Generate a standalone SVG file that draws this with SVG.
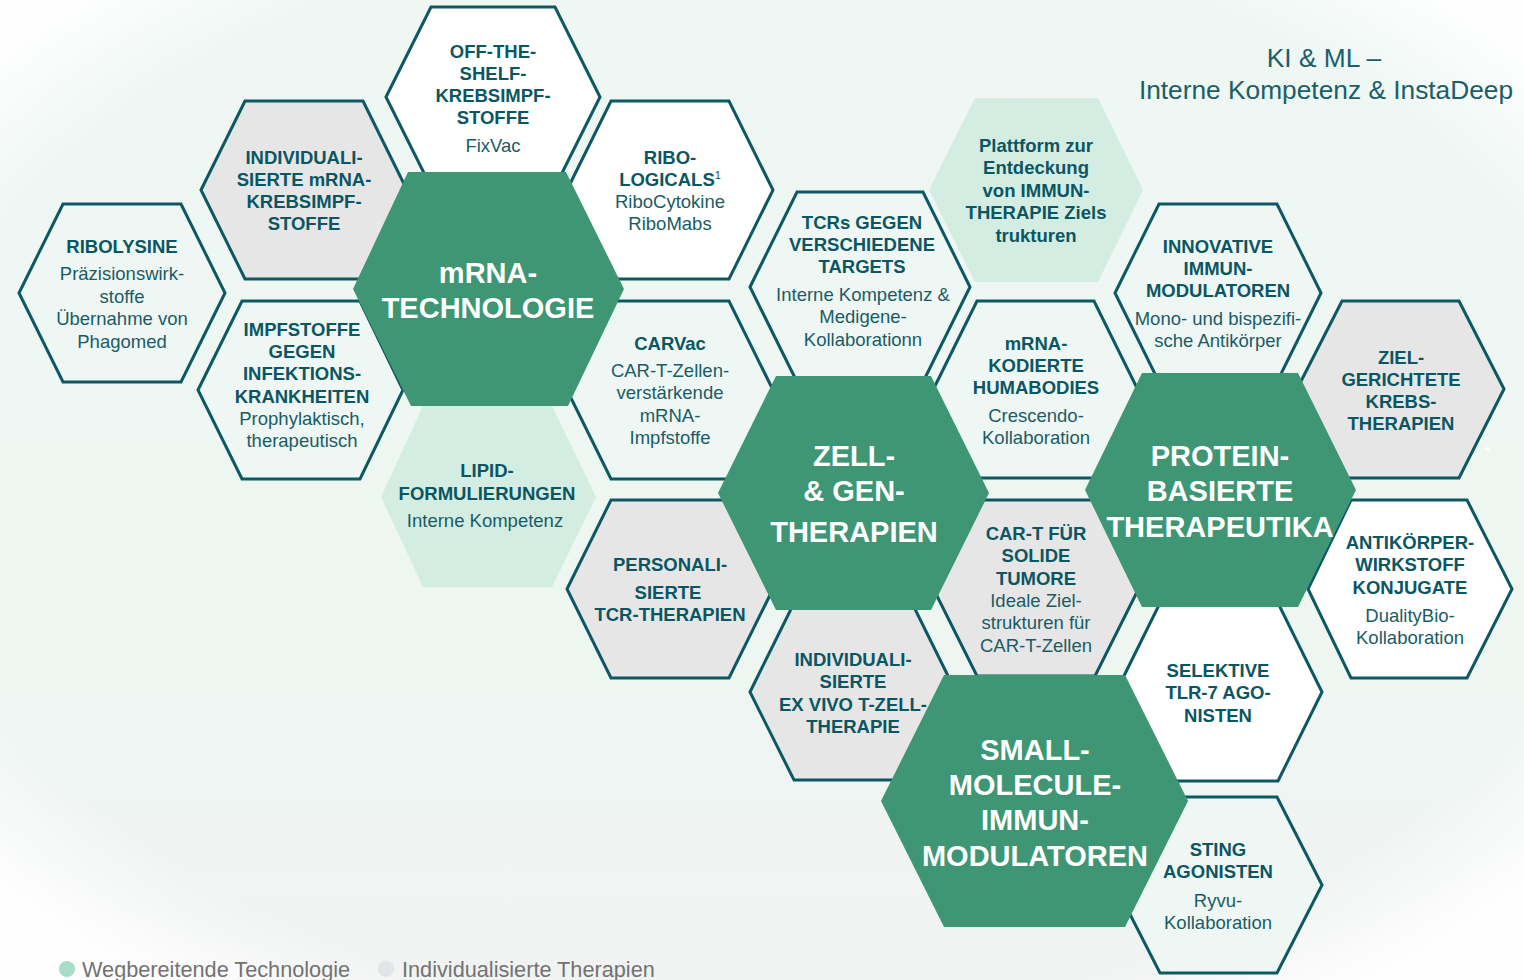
<svg xmlns="http://www.w3.org/2000/svg" width="1524" height="980" viewBox="0 0 1524 980">
  <defs>
    <linearGradient id="bgv" x1="0" y1="0" x2="0" y2="1">
      <stop offset="0" stop-color="#eef7f3"/>
      <stop offset="0.7" stop-color="#eef6f2"/>
      <stop offset="1" stop-color="#f1f3f2"/>
    </linearGradient>
    <radialGradient id="vig" cx="0.5" cy="0.48" r="0.66">
      <stop offset="0.84" stop-color="#ffffff" stop-opacity="0"/>
      <stop offset="1" stop-color="#ffffff" stop-opacity="0.95"/>
    </radialGradient>
    <style>
      .ol { stroke: #0d5863; stroke-width: 3; stroke-linejoin: miter; }
      .white { fill: #ffffff; }
      .gray { fill: #e6e6e6; }
      .bg { fill: #eef7f3; }
      .mint { fill: #d4ede2; stroke: none; }
      .green { fill: #3e9674; stroke: none; }
      text { font-family: "Liberation Sans", Arial, sans-serif; text-anchor: middle; }
      .t { font-size: 18.5px; font-weight: bold; fill: #0b5663; }
      .s { font-size: 18.5px; fill: #1a5c66; }
      .b { font-size: 29px; font-weight: bold; fill: #ffffff; }
      .title { font-size: 26.3px; fill: #1a5f68; }
      .leg { font-size: 21.7px; fill: #727272; text-anchor: start; }
    </style>
  </defs>

  <rect x="0" y="0" width="1524" height="980" fill="url(#bgv)"/>
  <rect x="0" y="0" width="1524" height="980" fill="url(#vig)"/>

  <g id="title">
    <text class="title" x="1324" y="67">KI &amp; ML –</text>
    <text class="title" x="1326" y="99">Interne Kompetenz &amp; InstaDeep</text>
  </g>

  <!-- mint technology hexes -->
  <g id="lipid">
    <polygon class="mint" points="381,497 423,406 552,406 596,497 552,587 423,587"/>
    <text class="t" x="487" y="477">LIPID-</text>
    <text class="t" x="487" y="500">FORMULIERUNGEN</text>
    <text class="s" x="485" y="527">Interne Kompetenz</text>
  </g>
  <g id="plattform">
    <polygon class="mint" points="929,190 975,98 1098,98 1143,190 1098,282 975,282"/>
    <text class="t" x="1036" y="152">Plattform zur</text>
    <text class="t" x="1036" y="174">Entdeckung</text>
    <text class="t" x="1036" y="197">von IMMUN-</text>
    <text class="t" x="1036" y="219">THERAPIE Ziels</text>
    <text class="t" x="1036" y="242">trukturen</text>
  </g>

  <!-- outlined hexes -->
  <g id="off-the-shelf">
    <polygon class="ol white" points="386,97 431,7 555,7 600,97 555,187 431,187"/>
    <text class="t" x="493" y="58">OFF-THE-</text>
    <text class="t" x="493" y="80">SHELF-</text>
    <text class="t" x="493" y="102">KREBSIMPF-</text>
    <text class="t" x="493" y="124">STOFFE</text>
    <text class="s" x="493" y="152">FixVac</text>
  </g>
  <g id="individualisierte-mrna">
    <polygon class="ol gray" points="201,190 245,101 363,101 407,190 363,279 245,279"/>
    <text class="t" x="304" y="164">INDIVIDUALI-</text>
    <text class="t" x="304" y="186">SIERTE mRNA-</text>
    <text class="t" x="304" y="208">KREBSIMPF-</text>
    <text class="t" x="304" y="230">STOFFE</text>
  </g>
  <g id="ribolysine">
    <polygon class="ol bg" points="19,293 63,204 181,204 225,293 181,382 63,382"/>
    <text class="t" x="122" y="253">RIBOLYSINE</text>
    <text class="s" x="122" y="280">Präzisionswirk-</text>
    <text class="s" x="122" y="303">stoffe</text>
    <text class="s" x="122" y="325">Übernahme von</text>
    <text class="s" x="122" y="348">Phagomed</text>
  </g>
  <g id="impfstoffe">
    <polygon class="ol bg" points="198,390 242,301 360,301 403,390 360,479 242,479"/>
    <text class="t" x="302" y="336">IMPFSTOFFE</text>
    <text class="t" x="302" y="358">GEGEN</text>
    <text class="t" x="302" y="380">INFEKTIONS-</text>
    <text class="t" x="302" y="403">KRANKHEITEN</text>
    <text class="s" x="302" y="425">Prophylaktisch,</text>
    <text class="s" x="302" y="447">therapeutisch</text>
  </g>
  <g id="ribologicals">
    <polygon class="ol white" points="567,190 611,101 729,101 773,190 729,279 611,279"/>
    <text class="t" x="670" y="164">RIBO-</text>
    <text class="t" x="670" y="186">LOGICALS<tspan font-size="11" font-weight="normal" dy="-7">1</tspan></text>
    <text class="s" x="670" y="208">RiboCytokine</text>
    <text class="s" x="670" y="230">RiboMabs</text>
  </g>
  <g id="carvac">
    <polygon class="ol bg" points="567,390 611,301 729,301 773,390 729,479 611,479"/>
    <text class="t" x="670" y="350">CARVac</text>
    <text class="s" x="670" y="377">CAR-T-Zellen-</text>
    <text class="s" x="670" y="399">verstärkende</text>
    <text class="s" x="670" y="422">mRNA-</text>
    <text class="s" x="670" y="444">Impfstoffe</text>
  </g>
  <g id="personalisierte-tcr">
    <polygon class="ol gray" points="567,589 611,500 729,500 773,589 729,678 611,678"/>
    <text class="t" x="670" y="571">PERSONALI-</text>
    <text class="t" x="668" y="599">SIERTE</text>
    <text class="t" x="670" y="621">TCR-THERAPIEN</text>
  </g>
  <g id="tcrs">
    <polygon class="ol bg" points="750,287 797,192 923,192 970,287 923,382 797,382"/>
    <text class="t" x="862" y="229">TCRs GEGEN</text>
    <text class="t" x="862" y="251">VERSCHIEDENE</text>
    <text class="t" x="862" y="273">TARGETS</text>
    <text class="s" x="863" y="301">Interne Kompetenz &amp;</text>
    <text class="s" x="863" y="323">Medigene-</text>
    <text class="s" x="863" y="346">Kollaborationn</text>
  </g>
  <g id="humabodies">
    <polygon class="ol bg" points="933,390 977,301 1094,301 1138,390 1094,478 977,478"/>
    <text class="t" x="1036" y="350">mRNA-</text>
    <text class="t" x="1036" y="372">KODIERTE</text>
    <text class="t" x="1036" y="394">HUMABODIES</text>
    <text class="s" x="1036" y="422">Crescendo-</text>
    <text class="s" x="1036" y="444">Kollaboration</text>
  </g>
  <g id="innovative">
    <polygon class="ol bg" points="1115,293 1159,204 1277,204 1321,293 1277,382 1159,382"/>
    <text class="t" x="1218" y="253">INNOVATIVE</text>
    <text class="t" x="1218" y="275">IMMUN-</text>
    <text class="t" x="1218" y="297">MODULATOREN</text>
    <text class="s" x="1218" y="325">Mono- und bispezifi-</text>
    <text class="s" x="1218" y="347">sche Antikörper</text>
  </g>
  <g id="zielgerichtete">
    <polygon class="ol gray" points="1297,389 1342,301 1459,301 1504,389 1459,478 1342,478"/>
    <text class="t" x="1401" y="364">ZIEL-</text>
    <text class="t" x="1401" y="386">GERICHTETE</text>
    <text class="t" x="1401" y="408">KREBS-</text>
    <text class="t" x="1401" y="430">THERAPIEN</text>
    <text x="1487" y="458" style="font-size:16px;fill:#ffffff">*</text>
  </g>
  <g id="antikoerper">
    <polygon class="ol white" points="1308,589 1351,500 1467,500 1512,589 1467,678 1351,678"/>
    <text class="t" x="1410" y="549">ANTIKÖRPER-</text>
    <text class="t" x="1410" y="571">WIRKSTOFF</text>
    <text class="t" x="1410" y="594">KONJUGATE</text>
    <text class="s" x="1410" y="622">DualityBio-</text>
    <text class="s" x="1410" y="644">Kollaboration</text>
  </g>
  <g id="car-t-solide">
    <polygon class="ol gray" points="933,588 977,500 1095,500 1139,588 1095,676 977,676"/>
    <text class="t" x="1036" y="540">CAR-T FÜR</text>
    <text class="t" x="1036" y="562">SOLIDE</text>
    <text class="t" x="1036" y="585">TUMORE</text>
    <text class="s" x="1036" y="607">Ideale Ziel-</text>
    <text class="s" x="1036" y="629">strukturen für</text>
    <text class="s" x="1036" y="652">CAR-T-Zellen</text>
  </g>
  <g id="ex-vivo">
    <polygon class="ol gray" points="750,692 794,603 912,603 956,692 912,780 794,780"/>
    <text class="t" x="853" y="666">INDIVIDUALI-</text>
    <text class="t" x="853" y="688">SIERTE</text>
    <text class="t" x="853" y="711">EX VIVO T-ZELL-</text>
    <text class="t" x="853" y="733">THERAPIE</text>
  </g>
  <g id="selektive">
    <polygon class="ol white" points="1116,692 1160,603 1278,603 1322,692 1278,781 1160,781"/>
    <text class="t" x="1218" y="677">SELEKTIVE</text>
    <text class="t" x="1218" y="699">TLR-7 AGO-</text>
    <text class="t" x="1218" y="722">NISTEN</text>
  </g>
  <g id="sting">
    <polygon class="ol bg" points="1115,885 1160,797 1277,797 1322,885 1277,973 1160,973"/>
    <text class="t" x="1218" y="856">STING</text>
    <text class="t" x="1218" y="878">AGONISTEN</text>
    <text class="s" x="1218" y="907">Ryvu-</text>
    <text class="s" x="1218" y="929">Kollaboration</text>
  </g>

  <!-- green core hexes -->
  <g id="mrna-technologie">
    <polygon class="green" points="353,289 408,172 566,172 624,289 568,406 411,406"/>
    <text class="b" x="488" y="283">mRNA-</text>
    <text class="b" x="488" y="318">TECHNOLOGIE</text>
  </g>
  <g id="zell-gen">
    <polygon class="green" points="718,493 776,376 931,376 989,493 931,610 776,610"/>
    <text class="b" x="854" y="466">ZELL-</text>
    <text class="b" x="854" y="501">&amp; GEN-</text>
    <text class="b" x="854" y="542">THERAPIEN</text>
  </g>
  <g id="protein">
    <polygon class="green" points="1085,490 1142,373 1298,373 1356,490 1298,607 1142,607"/>
    <text class="b" x="1220" y="466">PROTEIN-</text>
    <text class="b" x="1220" y="501">BASIERTE</text>
    <text class="b" x="1220" y="537">THERAPEUTIKA</text>
  </g>
  <g id="small-molecule">
    <polygon class="green" points="881,801 944,675 1125,675 1188,801 1125,927 944,927"/>
    <text class="b" x="1035" y="760">SMALL-</text>
    <text class="b" x="1035" y="795">MOLECULE-</text>
    <text class="b" x="1035" y="830">IMMUN-</text>
    <text class="b" x="1035" y="866">MODULATOREN</text>
  </g>

  <g id="connectors"/>

  <g id="legend">
    <circle cx="67" cy="969" r="8" fill="#a8dcc6"/>
    <text class="leg" x="82" y="977">Wegbereitende Technologie</text>
    <circle cx="386" cy="969" r="8" fill="#e2e4e8"/>
    <text class="leg" x="402" y="977">Individualisierte Therapien</text>
  </g>
</svg>
